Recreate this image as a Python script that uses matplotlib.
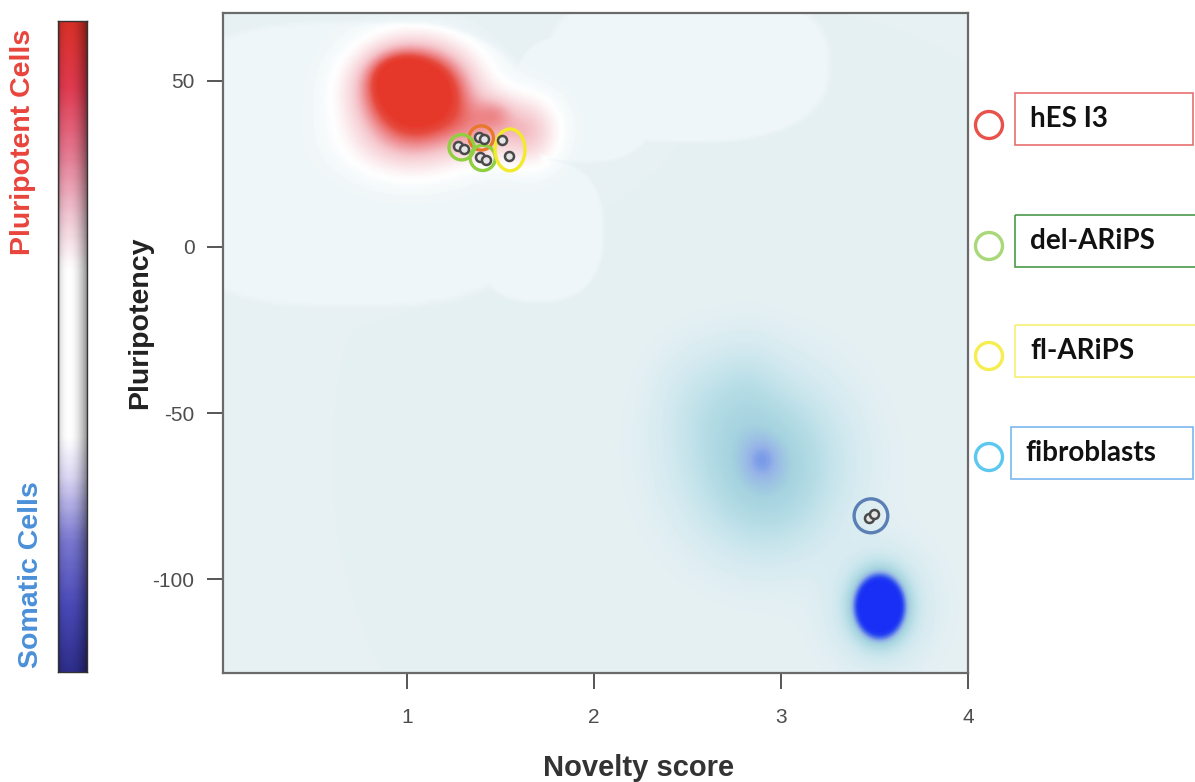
import numpy as np
import matplotlib
matplotlib.use("Agg")
import matplotlib.pyplot as plt
from matplotlib.colors import LinearSegmentedColormap
from matplotlib.patches import Ellipse, Circle, Rectangle

# ---------------- data ----------------
x_ticks = [1, 2, 3, 4]
y_ticks = [50, 0, -50, -100]
x_limits = (0.016, 4.0)
y_limits = (-128.2, 70.4)

# density components: centre x, centre y, spread x, spread y, weight (+ pluripotent, - somatic)
dens_x = [1.04, 0.95, 1.02, 1.42, 1.47, 1.66, 2.90, 2.90, 2.58, 2.82, 2.95, 3.53, 3.53]
dens_y = [47.5, 52.0, 34.0, 37.0, 40.5, 34.0, -64.0, -64.0, -46.0, -42.0, -76.0, -108.3, -108.3]
dens_sx = [0.17, 0.09, 0.19, 0.17, 0.06, 0.09, 0.27, 0.06, 0.16, 0.12, 0.20, 0.078, 0.17]
dens_sy = [7.6, 4.0, 7.0, 6.0, 3.0, 6.0, 16.0, 4.0, 11.0, 10.0, 13.0, 5.6, 11.0]
dens_w = [1.6, 0.4, 0.38, 0.36, 0.15, 0.2, -0.40, -0.10, -0.08, -0.07, -0.07, -2.2, -0.18]

# lighter background regions: centre x, centre y, half-width, half-height, shape power
light_x = [0.70, 1.70, 2.50, 1.95]
light_y = [25.0, 5.0, 55.0, 45.0]
light_ax = [1.05, 0.36, 0.78, 0.40]
light_ay = [44.0, 22.0, 24.0, 20.0]
light_p = [3.0, 2.5, 2.5, 2.5]

# samples
groups = ['hES I3', 'del-ARiPS', 'fl-ARiPS', 'fibroblasts']
hes_x = [1.385, 1.410]
hes_y = [33.2, 32.4]
del_x = [1.275, 1.305, 1.390, 1.420]
del_y = [30.3, 29.6, 27.2, 26.3]
fl_x = [1.510, 1.547]
fl_y = [32.2, 27.5]
fib_x = [3.470, 3.495]
fib_y = [-81.5, -80.3]

# group outlines in the plot
ring_x = [1.397, 1.292, 1.405, 1.551, 3.481]
ring_y = [32.8, 30.0, 26.8, 29.2, -80.9]
ring_w = [0.13, 0.135, 0.135, 0.16, 0.18]
ring_h = [7.3, 7.6, 7.6, 12.6, 10.2]
ring_colors = ['#e8782c', '#8fd040', '#8fd040', '#f2ea2a', '#5a7fb5']

legend_circle_colors = ['#e8524a', '#a8d878', '#f5ee50', '#5cc8f0']
legend_box_colors = ['#e87070', '#4a9a4a', '#f5f070', '#7ab8f0']

# ---------------- figure ----------------
W, H = 1195, 782
fig = plt.figure(figsize=(W / 100, H / 100), dpi=100)
fig.patch.set_facecolor('white')

ax = fig.add_axes([223 / W, 1 - 673 / H, (968 - 223) / W, (673 - 13) / H])

# density field
gx = np.linspace(x_limits[0], x_limits[1], 700)
gy = np.linspace(y_limits[0], y_limits[1], 500)
X, Y = np.meshgrid(gx, gy)
S = np.zeros_like(X)
for cx, cy, sx, sy, w in zip(dens_x, dens_y, dens_sx, dens_sy, dens_w):
    S += w * np.exp(-0.5 * ((X - cx) / sx) ** 2 - 0.5 * ((Y - cy) / sy) ** 2)
S = np.clip(S, -1, 1)
L = np.zeros_like(X)
for cx, cy, a, b, p in zip(light_x, light_y, light_ax, light_ay, light_p):
    r = (np.abs((X - cx) / a) ** p + np.abs((Y - cy) / b) ** p) ** (1 / p)
    t = np.clip((1 - r) / 0.06, 0, 1)
    L = np.maximum(L, t * t * (3 - 2 * t))
S = np.clip(S + 0.035 * L * (S > -0.02), -1, 1)

stops = [(-1.0, '#1a2ff5'), (-0.8, '#2440f2'), (-0.62, '#5a7fe8'), (-0.5, '#95b2e8'),
         (-0.38, '#a5d3df'), (-0.25, '#b6dde6'), (-0.12, '#cde7ee'), (-0.04, '#dcedf2'),
         (0.0, '#e7f1f4'), (0.035, '#eff6f9'), (0.06, '#f7fbfc'), (0.09, '#ffffff'),
         (0.2, '#fae4e7'), (0.35, '#f5c6cc'), (0.55, '#ee8c90'), (0.8, '#e64a3e'),
         (1.0, '#e5382a')]
cmap = LinearSegmentedColormap.from_list('dens', [((v + 1) / 2, c) for v, c in stops])
ax.imshow(S, extent=[x_limits[0], x_limits[1], y_limits[0], y_limits[1]], origin='lower',
          cmap=cmap, vmin=-1, vmax=1, aspect='auto', interpolation='bilinear', zorder=0)

for i in range(len(ring_x)):
    ax.add_patch(Ellipse((ring_x[i], ring_y[i]), ring_w[i], ring_h[i], fill=False,
                         edgecolor=ring_colors[i], lw=2.4, zorder=2))

for xs, ys in [(hes_x, hes_y), (del_x, del_y), (fl_x, fl_y), (fib_x, fib_y)]:
    ax.plot(xs, ys, 'o', ms=6.5, mfc='#e6e6e6', mec='#4a4a4a', mew=1.8, zorder=3)

ax.set_xlim(*x_limits)
ax.set_ylim(*y_limits)
ax.set_xticks(x_ticks)
ax.set_yticks(y_ticks)
ax.set_xticklabels([str(v) for v in x_ticks])
ax.set_yticklabels([str(v) for v in y_ticks])
ax.tick_params(direction='out', length=11.5, width=1.4, color='#555555',
               labelsize=15, labelcolor='#4d4d4d')
ax.tick_params(axis='x', pad=14)
ax.tick_params(axis='y', pad=9)
for lab in ax.get_xticklabels() + ax.get_yticklabels():
    lab.set_fontfamily('Liberation Sans')
for sp in ax.spines.values():
    sp.set_color('#6a6a6a')
    sp.set_linewidth(1.6)

fig.text(639 / W, 1 - 768 / H, 'Novelty score', ha='center', va='center',
         fontsize=21, fontweight='bold', color='#333333', family='Liberation Sans')
fig.text(140 / W, 1 - 323 / H, 'Pluripotency', ha='center', va='center', rotation=90,
         fontsize=20.5, fontweight='bold', color='#222222', family='Liberation Sans')

# colour bar
cax = fig.add_axes([58 / W, 1 - 672 / H, 29 / W, 651 / H])
cb_stops = [(0.0, '#2e2e8c'), (0.1, '#4a4ab8'), (0.2, '#7a78d0'), (0.3, '#dcd8f4'),
            (0.36, '#ffffff'), (0.62, '#ffffff'), (0.7, '#f0c8d4'), (0.8, '#e47890'),
            (0.9, '#e03a50'), (1.0, '#d83028')]
cb_cmap = LinearSegmentedColormap.from_list('cb', cb_stops)
rows = cb_cmap(np.linspace(0, 1, 300))[:, :3]
u = np.linspace(0, 1, 40)
shade = 1 - 0.42 * ((u - 0.38) / 0.62) ** 2
shade[:3] *= 0.85
img = rows[:, None, :] * shade[None, :, None]
cax.imshow(img, origin='lower', aspect='auto', extent=[0, 1, 0, 1], interpolation='bilinear')
cax.set_xticks([])
cax.set_yticks([])
for sp in cax.spines.values():
    sp.set_color('#333333')
    sp.set_linewidth(1.0)

fig.text(23 / W, 1 - 142 / H, 'Pluripotent Cells', rotation=90, ha='center', va='center',
         fontsize=20.5, fontweight='bold', color='#e8443c', family='Liberation Sans')
fig.text(31 / W, 1 - 575 / H, 'Somatic Cells', rotation=90, ha='center', va='center',
         fontsize=20.5, fontweight='bold', color='#4a90d8', family='Liberation Sans')

# legend on the right
ov = fig.add_axes([0, 0, 1, 1], zorder=5)
ov.set_xlim(0, W)
ov.set_ylim(H, 0)
ov.axis('off')
ov.patch.set_alpha(0)
circle_y = [125, 246, 356, 457]
box_top = [93, 215, 325, 427]
box_left = [1015, 1015, 1015, 1011]
box_right = [1193, 1200, 1200, 1193]
text_x = [1030, 1030, 1030, 1025]
for i, g in enumerate(groups):
    ov.add_patch(Circle((989, circle_y[i]), 13.5, fill=False,
                        edgecolor=legend_circle_colors[i], lw=2.4))
    ov.add_patch(Rectangle((box_left[i], box_top[i]), box_right[i] - box_left[i], 52,
                           fill=False, edgecolor=legend_box_colors[i], lw=1.2))
    ov.text(text_x[i], box_top[i] + 26, g, ha='left', va='center', fontsize=20,
            fontweight='bold', color='#111111', family='Lato')

fig.savefig('out.png', dpi=100, facecolor='white')
